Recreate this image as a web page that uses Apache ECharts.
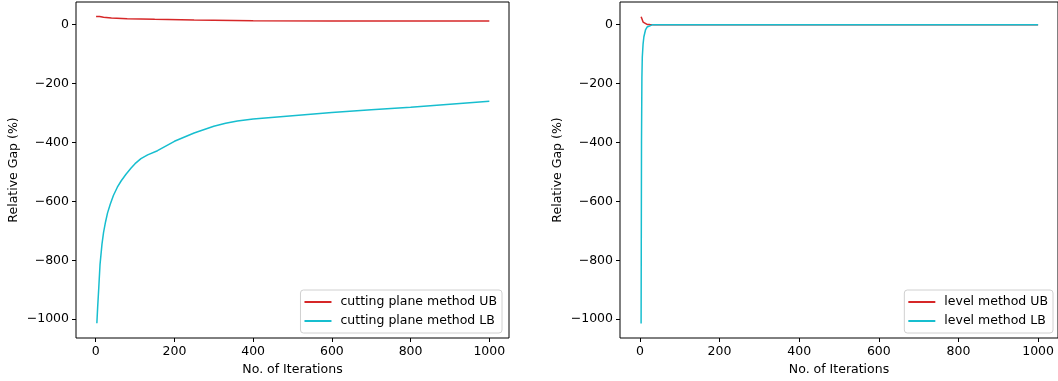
<!DOCTYPE html>
<html>
<head>
<meta charset="utf-8">
<script src="https://cdn.jsdelivr.net/npm/echarts@6/dist/echarts.min.js"></script>
<style>html,body{margin:0;padding:0;background:#fff}#c{width:1058px;height:381px}</style>
</head>
<body>
<div id="c"></div>
<script>
// ---- data ----
const xTicks = [0, 200, 400, 600, 800, 1000];
const yTicks = [-1000, -800, -600, -400, -200, 0];

const cpUBIter = [1, 10, 20, 40, 80, 150, 250, 400, 600, 800, 1000];
const cpUB     = [28, 27.5, 25.5, 23, 20, 18, 16, 13.5, 12.8, 12.5, 12.3];

const cpLBIter = [3, 5, 8, 11, 16, 20, 25, 30, 37, 45, 55, 65, 77, 90, 100, 115, 132, 157, 200, 250, 300, 330, 360, 400, 500, 600, 700, 800, 900, 1000];
const cpLB     = [-1014, -960, -890, -815, -745, -705, -670, -640, -610, -580, -552, -530, -508, -487, -472, -455, -442, -428, -396, -368, -345, -335, -327, -320, -309, -298, -289, -280, -270, -260];

const lvUBIter = [3, 4, 5, 6, 8, 10, 13, 18, 25, 35, 1000];
const lvUB     = [27, 26, 20, 14, 9, 6, 3, 1, 0.3, 0, 0];

const lvLBIter = [3, 4, 5, 6, 8, 10, 14, 18, 23, 31, 50, 1000];
const lvLB     = [-1015, -400, -180, -110, -65, -41, -18, -8, -3.4, -0.5, 0, 0];

const zip = (xs, ys) => xs.map((x, i) => [x, ys[i]]);

const RED = '#d62728', CYAN = '#17becf';
const FONT = 'DejaVu Sans';
const FS = 12.5;
const fmt = v => v < 0 ? '\u2212' + Math.abs(v) : String(v);

function xAxis(gi) {
  return {
    type: 'value', gridIndex: gi, min: -50, max: 1050,
    name: 'No. of Iterations', nameLocation: 'middle', nameGap: 22,
    nameTextStyle: { fontFamily: FONT, fontSize: FS, color: '#000' },
    axisLine: { show: false, onZero: false },
    splitLine: { show: false },
    axisTick: { show: true, inside: false, length: 4, lineStyle: { color: '#000' }, customValues: xTicks },
    axisLabel: { fontFamily: FONT, fontSize: FS, color: '#000', margin: 7, customValues: xTicks, formatter: fmt }
  };
}
function yAxis(gi) {
  return {
    type: 'value', gridIndex: gi, min: -1064, max: 77,
    name: 'Relative Gap (%)', nameLocation: 'middle', nameGap: 56,
    nameTextStyle: { fontFamily: FONT, fontSize: FS, color: '#000' },
    axisLine: { show: false, onZero: false },
    splitLine: { show: false },
    axisTick: { show: true, inside: false, length: 4, lineStyle: { color: '#000' }, customValues: yTicks },
    axisLabel: { fontFamily: FONT, fontSize: FS, color: '#000', margin: 7, customValues: yTicks, formatter: fmt }
  };
}
function series(name, data, color, gi) {
  return {
    name, type: 'line', xAxisIndex: gi, yAxisIndex: gi, data,
    symbol: 'none', showSymbol: false, animation: false,
    lineStyle: { color, width: 1.5 }, itemStyle: { color }
  };
}
function legend(names, right) {
  return {
    data: names.map(n => ({ name: n, icon: 'rect' })),
    orient: 'vertical', right, top: 290,
    itemWidth: 27, itemHeight: 2, itemGap: 5,
    padding: [5, 5, 5, 4],
    backgroundColor: '#fff', borderColor: '#d0d0d0', borderWidth: 1, borderRadius: 3,
    textStyle: { fontFamily: FONT, fontSize: FS, color: '#000', lineHeight: 14, padding: [0, 0, 0, 4] }
  };
}

const chart = echarts.init(document.getElementById('c'), null, { renderer: 'canvas' });
chart.setOption({
  animation: false,
  backgroundColor: '#fff',
  grid: [
    { left: 76, top: 2, width: 433, height: 336, show: true, borderColor: '#000', borderWidth: 1, backgroundColor: 'transparent' },
    { left: 620, top: 2, width: 440, height: 336, show: true, borderColor: '#000', borderWidth: 1, backgroundColor: 'transparent' }
  ],
  xAxis: [xAxis(0), xAxis(1)],
  yAxis: [yAxis(0), yAxis(1)],
  legend: [
    legend(['cutting plane method UB', 'cutting plane method LB'], 556),
    legend(['level method UB', 'level method LB'], 5)
  ],
  series: [
    series('cutting plane method UB', zip(cpUBIter, cpUB), RED, 0),
    series('cutting plane method LB', zip(cpLBIter, cpLB), CYAN, 0),
    series('level method UB', zip(lvUBIter, lvUB), RED, 1),
    series('level method LB', zip(lvLBIter, lvLB), CYAN, 1)
  ]
});
</script>
</body>
</html>
